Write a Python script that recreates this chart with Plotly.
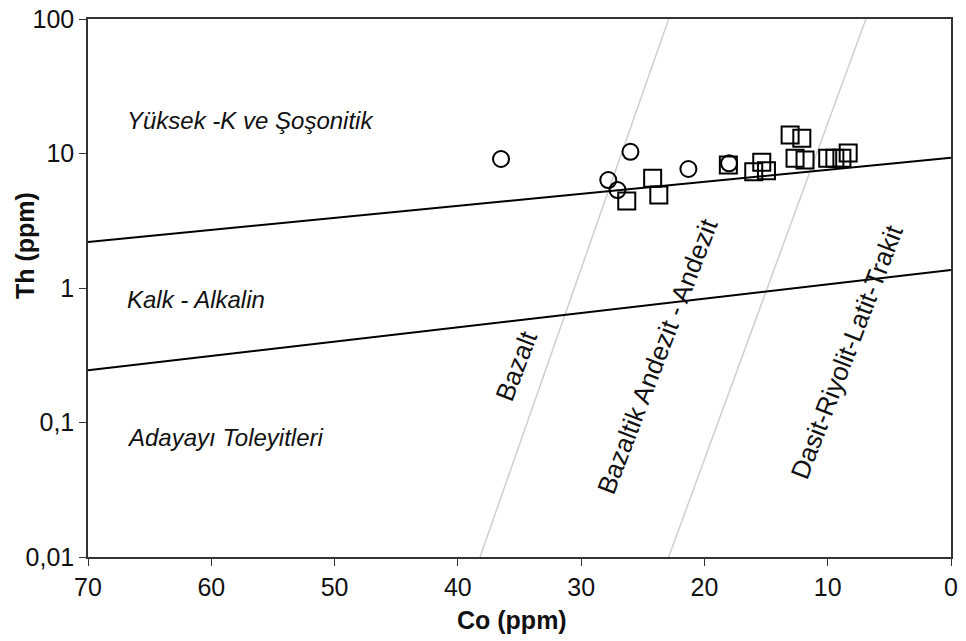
import plotly.graph_objects as go

# Data (Co ppm, Th ppm)
circle_co = [36.5, 26.0, 27.8, 27.05, 21.3, 18.0]
circle_th = [9.1, 10.3, 6.35, 5.35, 7.67, 8.45]
square_co = [24.2, 23.7, 26.3, 18.06, 15.35, 16.0, 14.97, 13.05, 12.1, 12.65, 11.84, 10.0, 9.42, 8.85, 8.34]
square_th = [6.54, 4.91, 4.43, 8.2, 8.6, 7.32, 7.45, 13.7, 13.0, 9.2, 8.95, 9.2, 9.2, 9.2, 10.1]

# Boundary lines
upper_co = [70, 0]
upper_th = [2.2, 9.3]
lower_co = [70, 0]
lower_th = [0.245, 1.36]
gray1_co = [38.2, 22.9]
gray1_th = [0.01, 100]
gray2_co = [22.9, 6.9]
gray2_th = [0.01, 100]

ytick_vals = [0.01, 0.1, 1, 10, 100]
ytick_text = ["0,01", "0,1", "1", "10", "100"]
xtick_vals = [70, 60, 50, 40, 30, 20, 10, 0]

FONT = "Liberation Sans, Arial, sans-serif"

fig = go.Figure()
for cx, cy in [(gray1_co, gray1_th), (gray2_co, gray2_th)]:
    fig.add_trace(go.Scatter(x=cx, y=cy, mode="lines",
                             line=dict(color="#cfcfcf", width=1.5), hoverinfo="skip"))
for cx, cy in [(upper_co, upper_th), (lower_co, lower_th)]:
    fig.add_trace(go.Scatter(x=cx, y=cy, mode="lines",
                             line=dict(color="black", width=2), hoverinfo="skip"))

fig.add_trace(go.Scatter(x=square_co, y=square_th, mode="markers",
                         marker=dict(symbol="square-open", size=17, color="black",
                                     line=dict(width=2, color="black"))))
fig.add_trace(go.Scatter(x=circle_co, y=circle_th, mode="markers",
                         marker=dict(symbol="circle-open", size=16, color="black",
                                     line=dict(width=2, color="black"))))

region_font = dict(family=FONT, size=24, color="#111")
def it(s):
    return "<i>" + s + "</i>"

fig.add_annotation(x=67.0, y=1.249, text=it("Yüksek -K ve Şoşonitik"), showarrow=False,
                   xanchor="left", yanchor="middle", font=region_font)
fig.add_annotation(x=67.0, y=-0.089, text=it("Kalk - Alkalin"), showarrow=False,
                   xanchor="left", yanchor="middle", font=region_font)
fig.add_annotation(x=67.0, y=-1.115, text=it("Adayayı Toleyitleri"), showarrow=False,
                   xanchor="left", yanchor="middle", font=region_font)

rot_font = dict(family=FONT, size=26, color="#111")
fig.add_annotation(x=35.26, y=-0.58, text="Bazalt", showarrow=False, textangle=-69, font=rot_font)
fig.add_annotation(x=23.8, y=-0.506, text="Bazaltik Andezit - Andezit", showarrow=False,
                   textangle=-69, font=rot_font)
fig.add_annotation(x=8.45, y=-0.476, text="Dasit-Riyolit-Latit-Trakit", showarrow=False,
                   textangle=-69, font=rot_font)

# Axis titles
fig.add_annotation(xref="paper", yref="paper", x=-0.073, y=0.578, text="<b>Th (ppm)</b>",
                   xanchor="center", yanchor="middle",
                   showarrow=False, textangle=-90, font=dict(family=FONT, size=25, color="#111"))
fig.add_annotation(xref="paper", yref="paper", x=0.491, y=-0.117, text="<b>Co (ppm)</b>",
                   xanchor="center", yanchor="middle",
                   showarrow=False, font=dict(family=FONT, size=25, color="#111"))

fig.update_layout(
    width=966, height=641,
    margin=dict(l=88, r=15, t=19, b=84),
    paper_bgcolor="white", plot_bgcolor="white",
    showlegend=False,
    font=dict(family=FONT, size=22, color="#111"),
)
fig.update_xaxes(range=[70, 0], tickvals=xtick_vals, ticks="outside", ticklen=7,
                 tickcolor="#333", showgrid=False, zeroline=False, automargin=False,
                 showline=True, linecolor="#333", linewidth=1.5, mirror=True,
                 tickfont=dict(family=FONT, size=25))
fig.update_yaxes(type="log", range=[-2, 2], tickvals=ytick_vals, ticktext=ytick_text,
                 ticks="outside", ticklen=7, tickcolor="#333", showgrid=False, zeroline=False,
                 automargin=False,
                 showline=True, linecolor="#333", linewidth=1.5, mirror=True,
                 tickfont=dict(family=FONT, size=25))

fig.write_html("out.html")
